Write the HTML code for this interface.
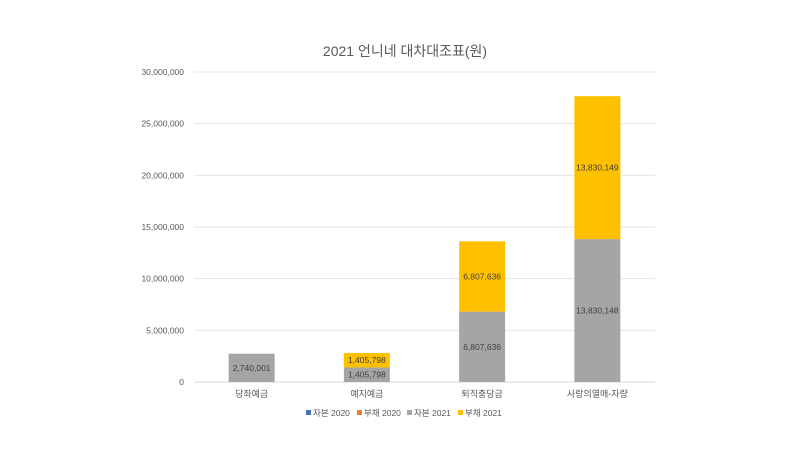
<!DOCTYPE html>
<html><head><meta charset="utf-8"><style>
body{margin:0;background:#fff;font-family:"Liberation Sans","Noto Sans CJK KR",sans-serif;}
svg text{font-family:"Liberation Sans","Noto Sans CJK KR",sans-serif;}
</style></head><body>
<svg id="chart" width="810" height="455" xmlns="http://www.w3.org/2000/svg">
<rect width="810" height="455" fill="#fff"/>
<text x="405" y="56" text-anchor="middle" font-size="14" fill="#595959">2021 언니네 대차대조표(원)</text>
<g id="grid"></g><g id="bars"></g><g id="labels"></g><g id="legend"></g>
</svg>
<script>
const categories=["당좌예금","예지예금","퇴직충당금","사랑의열매-자량"];
const equity2021=[2740001,1405798,6807636,13830148];
const liability2021=[0,1405798,6807636,13830149];
const yTicks=[0,5000000,10000000,15000000,20000000,25000000,30000000];
const seriesNames=["자본 2020","부채 2020","자본 2021","부채 2021"];
const seriesColors=["#4472C4","#ED7D31","#A5A5A5","#FFC000"];
const NS="http://www.w3.org/2000/svg";
const x0=194,x1=655,yb=382,yt=72,ymax=30000000;
const y=v=>yb-(v/ymax)*(yb-yt);
const band=(x1-x0)/categories.length;
const xc=i=>x0+band*(i+0.5);
const bw=46;
function mk(tag,attrs,parent){const e=document.createElementNS(NS,tag);for(const k in attrs)e.setAttribute(k,attrs[k]);parent.appendChild(e);return e;}
const grid=document.getElementById('grid'),bars=document.getElementById('bars'),labels=document.getElementById('labels'),legend=document.getElementById('legend');
yTicks.forEach(t=>{
 const l=mk('line',{x1:x0,x2:x1,y1:y(t),y2:y(t),stroke:t===0?'#d9d9d9':'#e6e6e6','stroke-width':1},grid);
 
 
 const tx=mk('text',{x:184,y:y(t)+3,'text-anchor':'end','font-size':'8.5',fill:'#595959'},grid);
 tx.textContent=t.toLocaleString('en-US');
 
 
});
categories.forEach((c,i)=>{
 const cx=xc(i);
 const e=equity2021[i],l=liability2021[i];
 const r1=mk('rect',{x:cx-bw/2,y:y(e),width:bw,height:yb-y(e),fill:seriesColors[2]},bars);
 
 
 const t1=mk('text',{x:cx,y:(y(e)+yb)/2+3,'text-anchor':'middle','font-size':'8.5',fill:'#404040'},labels);
 t1.textContent=e.toLocaleString('en-US');
 
 
 if(l>0){
  const r2=mk('rect',{x:cx-bw/2,y:y(e+l),width:bw,height:y(e)-y(e+l),fill:seriesColors[3]},bars);
  
  
  const t2=mk('text',{x:cx,y:(y(e+l)+y(e))/2+3,'text-anchor':'middle','font-size':'8.5',fill:'#404040'},labels);
  t2.textContent=l.toLocaleString('en-US');
  
  
 }
 const ct=mk('text',{x:cx,y:397,'text-anchor':'middle','font-size':'9',fill:'#595959'},labels);
 ct.textContent=c;
 
 
});
const lx=[306,357,407,458];
seriesNames.forEach((s,i)=>{
 const r=mk('rect',{x:lx[i],y:410,width:5,height:5,fill:seriesColors[i]},legend);
 
 
 const t=mk('text',{x:lx[i]+7,y:416,'font-size':'8.5',fill:'#595959'},legend);
 t.textContent=s;
 
 
});
</script>
</body></html>
